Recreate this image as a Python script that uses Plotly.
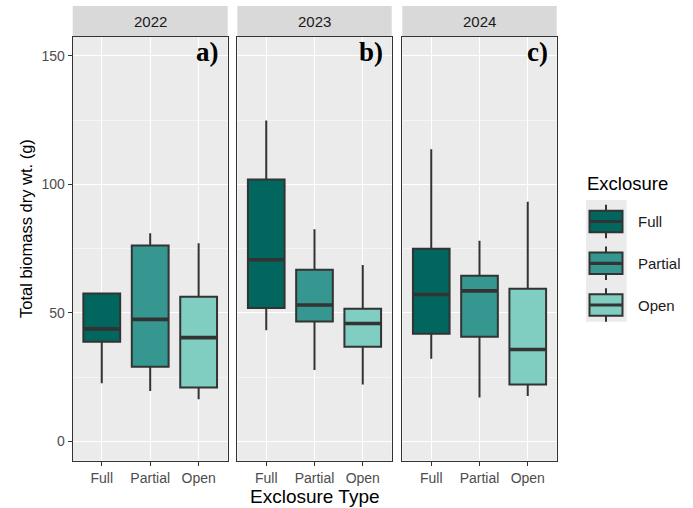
import plotly.graph_objects as go

# ---------------- data ----------------
years = ["2022", "2023", "2024"]
panel_tags = ["a)", "b)", "c)"]
exclosures = ["Full", "Partial", "Open"]
colors = ["#01665E", "#35978F", "#80CDC1"]

# box statistics per year (rows) and exclosure (columns: Full, Partial, Open)
lower_whisker = [[22.6, 19.6, 16.4], [43.3, 27.8, 22.2], [32.2, 17.1, 17.7]]
q1_vals       = [[38.8, 29.1, 21.0], [51.9, 46.7, 36.8], [41.9, 40.7, 22.2]]
median_vals   = [[43.8, 47.5, 40.4], [70.7, 53.1, 45.9], [57.2, 58.6, 35.8]]
q3_vals       = [[57.6, 76.2, 56.3], [101.9, 66.8, 51.6], [75.0, 64.5, 59.4]]
upper_whisker = [[57.6, 81.0, 77.1], [124.9, 82.6, 68.7], [113.7, 78.1, 93.3]]

y_ticks = [0, 50, 100, 150]
y_range = [-7.5, 157.5]

# ---------------- layout helpers ----------------
W, H = 693, 508
def px(x):
    return x / W
def py(y):
    return 1 - y / H

panel_px = [(72.7, 227.7), (237.3, 391.7), (402.3, 556.7)]
top_px, bottom_px = 36.7, 460.7
strip_top_px = 6.0
box_width = 0.76
outline = "#333333"

fig = go.Figure()

for p, year in enumerate(years):
    xa = "x" if p == 0 else f"x{p+1}"
    ya = "y" if p == 0 else f"y{p+1}"
    for i, exc in enumerate(exclosures):
        pos = i + 1
        fig.add_trace(go.Box(
            x=[pos], q1=[q1_vals[p][i]], median=[median_vals[p][i]],
            q3=[q3_vals[p][i]], lowerfence=[lower_whisker[p][i]],
            upperfence=[upper_whisker[p][i]],
            width=box_width, whiskerwidth=0, boxpoints=False,
            fillcolor=colors[i], line=dict(color=outline, width=2),
            name=exc, showlegend=False, xaxis=xa, yaxis=ya, hoverinfo="skip"))
        # thicker median line (ggplot fatten)
        fig.add_trace(go.Scatter(
            x=[pos - box_width / 2, pos + box_width / 2],
            y=[median_vals[p][i], median_vals[p][i]],
            mode="lines", line=dict(color=outline, width=3.6),
            showlegend=False, xaxis=xa, yaxis=ya, hoverinfo="skip"))

axis_common = dict(showline=True, mirror=True, linecolor=outline, linewidth=1.2,
                   zeroline=False)
layout = dict(
    width=W, height=H, autosize=False,
    margin=dict(l=0, r=0, t=0, b=0),
    paper_bgcolor="white", plot_bgcolor="#EBEBEB",
    font=dict(family="Liberation Sans, Arial", color="#4D4D4D"),
    showlegend=False, boxmode="overlay",
)
for p in range(3):
    xk = "xaxis" if p == 0 else f"xaxis{p+1}"
    yk = "yaxis" if p == 0 else f"yaxis{p+1}"
    layout[xk] = dict(
        domain=[px(panel_px[p][0]), px(panel_px[p][1])],
        anchor="y" if p == 0 else f"y{p+1}",
        range=[0.4, 3.6], tickvals=[1, 2, 3], ticktext=exclosures,
        showgrid=True, gridcolor="white", gridwidth=1.3,
        ticks="outside", ticklen=4, tickcolor=outline, tickwidth=1.2,
        tickfont=dict(size=14, color="#4D4D4D"),
        fixedrange=True, **axis_common)
    layout[yk] = dict(
        domain=[py(bottom_px), py(top_px)],
        anchor="x" if p == 0 else f"x{p+1}",
        range=y_range, tickvals=y_ticks,
        showticklabels=(p == 0),
        ticks="outside" if p == 0 else "", ticklen=4, tickcolor=outline, tickwidth=1.2,
        tickfont=dict(size=14, color="#4D4D4D"),
        showgrid=True, gridcolor="white", gridwidth=1.3,
        minor=dict(tickvals=[25, 75, 125], showgrid=True, gridcolor="#F5F5F5",
                   gridwidth=0.7, ticks=""),
        fixedrange=True, **axis_common)
fig.update_layout(**layout)

shapes = []
annotations = []
for p, year in enumerate(years):
    x0, x1 = px(panel_px[p][0]), px(panel_px[p][1])
    # strip
    shapes.append(dict(type="rect", xref="paper", yref="paper",
                       x0=x0, x1=x1, y0=py(top_px), y1=py(strip_top_px),
                       fillcolor="#D9D9D9", line=dict(width=0), layer="below"))
    annotations.append(dict(text=year, xref="paper", yref="paper",
                            x=(x0 + x1) / 2, y=py((strip_top_px + top_px) / 2),
                            xanchor="center", yanchor="middle", showarrow=False,
                            font=dict(size=15, color="#1A1A1A")))
    # panel tag
    annotations.append(dict(text="<b>" + panel_tags[p] + "</b>", xref="paper", yref="paper",
                            x=px(panel_px[p][1] - 7), y=py(52),
                            xanchor="right", yanchor="middle", showarrow=False,
                            font=dict(size=27, color="black",
                                      family="Liberation Serif, Times New Roman")))

# axis titles
annotations.append(dict(text="Exclosure Type", xref="paper", yref="paper",
                        x=px((panel_px[0][0] + panel_px[2][1]) / 2), y=py(496),
                        xanchor="center", yanchor="middle", showarrow=False,
                        font=dict(size=19, color="black")))
annotations.append(dict(text="Total biomass dry wt. (g)", xref="paper", yref="paper",
                        x=px(26), y=py(229), textangle=-90,
                        xanchor="center", yanchor="middle", showarrow=False,
                        font=dict(size=16.5, color="black")))

# legend (drawn manually, ggplot style)
annotations.append(dict(text="Exclosure", xref="paper", yref="paper",
                        x=px(585), y=py(183), xanchor="left", yanchor="middle",
                        showarrow=False, font=dict(size=18.5, color="black")))
shapes.append(dict(type="rect", xref="paper", yref="paper",
                   x0=px(586), x1=px(626.7), y0=py(321.7), y1=py(200),
                   fillcolor="#EBEBEB", line=dict(width=0)))
key_centers = [221.5, 263.3, 305.0]
for i, exc in enumerate(exclosures):
    c = key_centers[i]
    shapes.append(dict(type="line", xref="paper", yref="paper",
                       x0=px(606), x1=px(606), y0=py(c + 16.7), y1=py(c - 16.7),
                       line=dict(color=outline, width=2)))
    shapes.append(dict(type="rect", xref="paper", yref="paper",
                       x0=px(589.5), x1=px(622.5), y0=py(c + 10.8), y1=py(c - 10.8),
                       fillcolor=colors[i], line=dict(color=outline, width=2)))
    shapes.append(dict(type="line", xref="paper", yref="paper",
                       x0=px(589.5), x1=px(622.5), y0=py(c), y1=py(c),
                       line=dict(color=outline, width=3.2)))
    annotations.append(dict(text=exc, xref="paper", yref="paper",
                            x=px(636), y=py(c), xanchor="left", yanchor="middle",
                            showarrow=False, font=dict(size=15, color="#1A1A1A")))

fig.update_layout(shapes=shapes, annotations=annotations)
fig.write_html("out.html", config={"displayModeBar": False},
               post_script="document.body.style.margin='0';document.body.style.overflow='hidden';")
